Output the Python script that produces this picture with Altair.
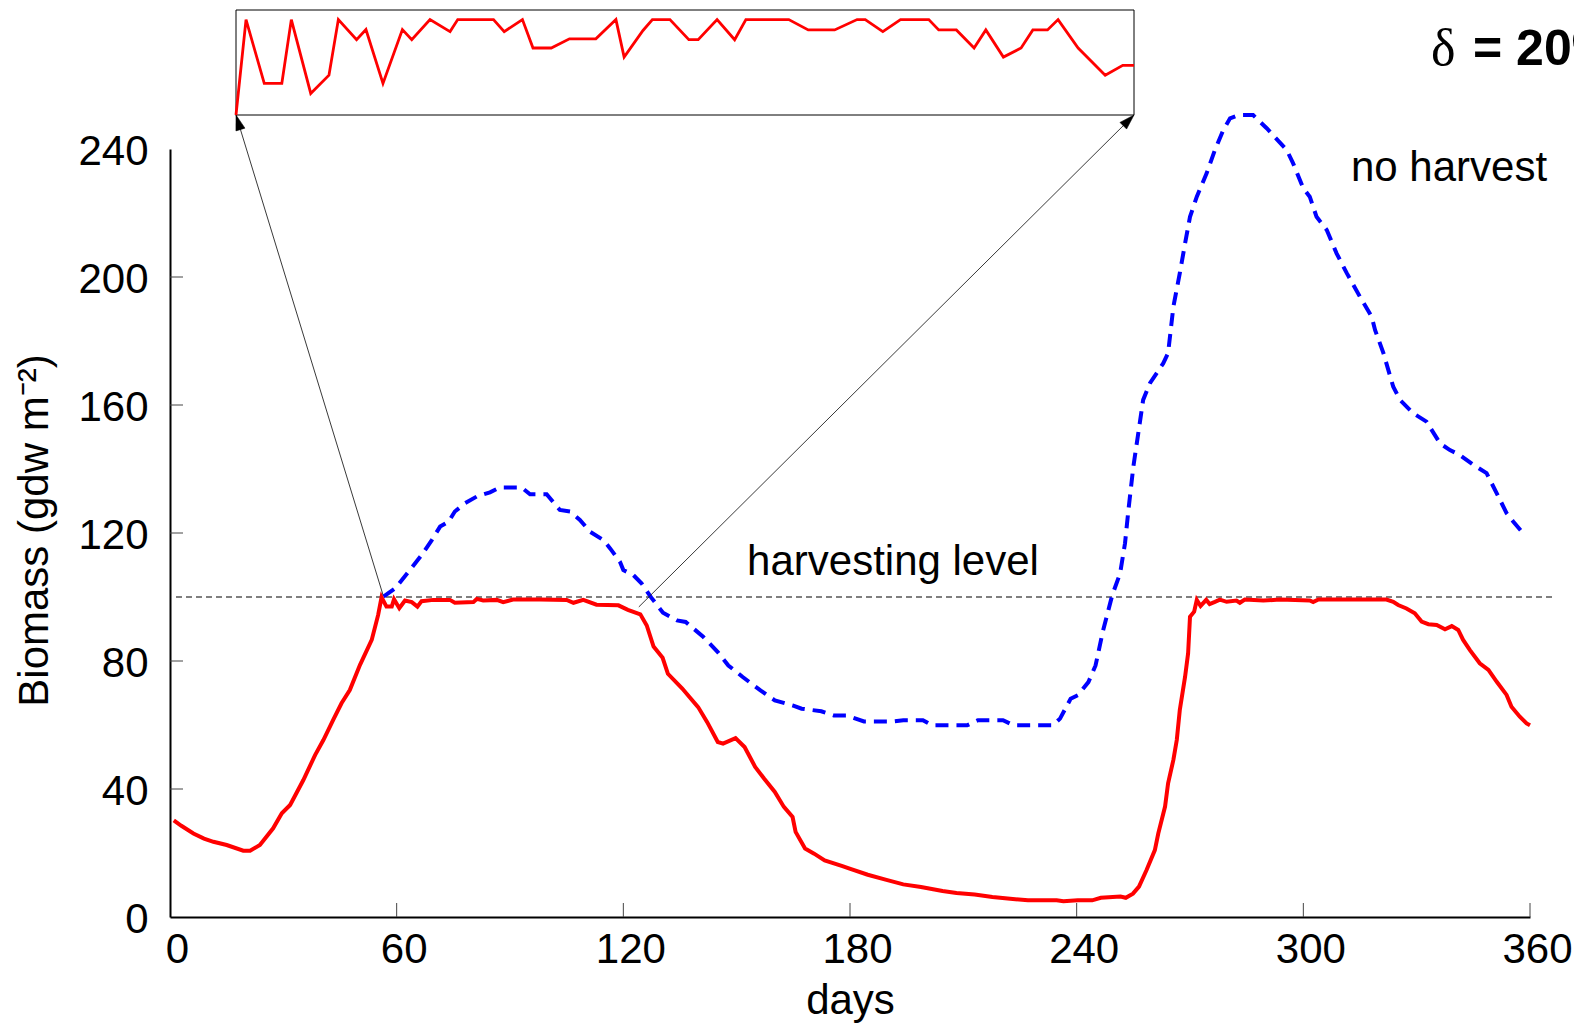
import altair as alt
import pandas as pd

# ---------------- data ----------------
red_days = [1, 3, 6.2, 9, 11.5, 15, 19.4, 21.2, 23.8, 27.3, 29.6, 31.8, 35.3, 38.4, 40.6, 43.2,
            45.4, 47.6, 50.3, 53.4, 55.1, 56.0, 57.3, 58.7, 59.3, 60.7, 62.2, 64, 65.5, 66.6,
            69.7, 74.1, 75.4, 80.3, 81.2, 82.9, 86.5, 88.2, 90.8, 97.9, 105, 106.8, 109.4, 112.9,
            118.7, 121.2, 124.5, 126.2, 128.0, 130.4, 131.8, 135.6, 137.5, 139.8, 142.2, 145.0,
            146.4, 149.7, 152.1, 154.9, 157.3, 160.1, 162.5, 164.8, 165.6, 168.1, 170.5, 173.3,
            178.0, 179.9, 184.7, 189.4, 194.1, 198.8, 204.5, 208.2, 213.0, 217.7, 222.4, 227.1,
            234.7, 236.5, 240.3, 244.1, 246.4, 251.6, 253.0, 254.9, 256.5, 258.5, 260.7, 261.6,
            263.4, 264.2, 265.6, 266.5, 267.3, 268.7, 269.5, 270, 271.1, 271.8, 272.8, 274.3,
            275.2, 276.6, 277.9, 279.7, 282.3, 283.2, 284.5, 289.4, 293.8, 301.7, 302.6, 304,
            322, 323.8, 325.1, 327.3, 329.5, 331.3, 333.1, 335.3, 337.5, 339.3, 341, 342.3,
            344.1, 346.7, 349, 351.2, 353.8, 355.1, 357.3, 359.1, 360]
red_vals = [30.2, 28.5, 26.1, 24.5, 23.5, 22.5, 20.7, 20.7, 22.5, 27.7, 32.4, 35, 42.8, 50.6, 55.3, 61.6,
            66.8, 70.9, 78.8, 86.6, 94.4, 99.9, 97.0, 97.0, 99.3, 96.5, 98.9, 98.4, 97.0, 98.7,
            99.1, 99.1, 98.2, 98.4, 99.4, 98.9, 99.1, 98.4, 99.2, 99.2, 99.1, 98.2, 99.1, 97.6,
            97.4, 96.0, 94.6, 91.1, 84.5, 81.0, 76.0, 71.4, 68.75, 65.6, 60.9, 54.7,
            54.2, 55.9, 53.1, 46.9, 43.2, 39.1, 34.4, 31.25, 26.6, 21.4, 19.8, 17.7,
            15.9, 15.1, 13.2, 11.7, 10.2, 9.4, 8.1, 7.5, 7.0, 6.25, 5.7, 5.2,
            5.2, 4.9, 5.2, 5.2, 6.0, 6.4, 6.0, 7.3, 9.5, 14.7, 20.9, 26.1,
            34.5, 41.8, 49.1, 55.3, 64.7, 75.1, 82.4, 93.8, 95.4, 99.1, 97.2, 99.1,
            97.8, 98.5, 99.2, 98.5, 98.9, 98.2, 99.2, 98.9, 99.2, 98.9, 98.4, 99.2,
            99.2, 98.5, 97.5, 96.4, 94.9, 92.3, 91.5, 91.25, 89.9, 90.9, 89.7, 86.6,
            83.4, 79.3, 77.2, 73.5, 69.4, 65.7, 62.6, 60.5, 59.9]

blue_days = [56.5, 59.6, 63.5, 66.6, 69.3, 71.5, 73.7, 75.4, 78.1, 81.2, 84.7, 87.3, 93.1, 95.3, 99.7,
             103.2, 105.9, 108.5, 111.2, 114.7, 116.5, 119.1, 120, 122.6, 124.8, 127.4, 130.5,
             134.2, 136.5, 141.2, 145.0, 147.8, 151.6, 156.3, 160.1, 164.8, 167.2, 172.4, 175.7,
             179.0, 183.7, 191.3, 194.1, 199.3, 201.7, 211.0, 213.9, 220.5, 223.3, 233.7, 235.6,
             238.4, 240.3, 243.1, 245.0, 246.9, 249.4, 251.5, 252.8, 253.7, 255, 256.3, 257.6,
             259.4, 262.9, 264.2, 265.6, 267.3, 268.7, 270, 271.8, 274.4, 276.6, 278.8, 280.6,
             282.8, 286.7, 290.3, 295.6, 297.3, 300, 301.7, 303.5, 306.2, 308.8, 311.5, 315,
             318.1, 319, 321.2, 323.8, 325.6, 329.1, 332.6, 336.2, 338.8, 341.4, 345, 348.5,
             351.2, 353.8, 355.6, 358.2]
blue_vals = [100.1, 102.7, 108.4, 113.1, 117.8, 122, 123.5, 126.7, 129.3, 131.4, 132.7, 134.2, 134.2, 132.1, 132.1,
             127.2, 126.7, 124.1, 120.4, 117.8, 115.2, 111, 108.4, 106.9, 104.3, 99.8, 95.1,
             92.7, 92.2, 87.5, 82.8, 78.6, 75.0, 70.8, 67.7, 66.1, 65.1, 64.3, 63.0,
             63.0, 61.1, 61.1, 61.5, 61.5, 59.9, 59.9, 61.5, 61.5, 59.9, 59.9, 62.0,
             68.2, 69.3, 73.4, 78.6, 89.1, 100.5, 107.4, 116.8, 127.2, 140.7, 151.1, 161.6,
             166.8, 173, 176.2, 190.7, 201.2, 210.5, 218.8, 225.1, 232.4, 239.7, 245.9, 249.6,
             250.6, 250.6, 246.5, 239.7, 235.5, 227.7, 225.1, 218.8, 214.7, 207.4, 201.2, 193.8,
             187.6, 183.4, 176.2, 165.7, 161.6, 157.4, 154.8, 148, 145.9, 144.4, 141.3, 138.7,
             132.4, 126.2, 123.5, 119.9]

# magnified harvested curve shown in the inset (days 56-124)
inset_days = [56.0, 56.76, 58.14, 59.47, 60.19, 61.66, 63.04, 63.75, 65.13, 65.84, 67.13, 68.60, 69.31,
              70.69, 72.21, 72.79, 75.50, 76.31, 77.69, 78.49, 79.87, 81.25, 83.25, 84.77, 85.39,
              86.82, 87.53, 88.86, 90.29, 91.00, 92.43, 93.76, 94.61, 97.86, 99.33, 101.33, 103.03,
              103.65, 104.98, 106.32, 108.46, 109.21, 110.55, 111.89, 112.78, 114.11, 115.45,
              116.34, 117.45, 118.25, 119.77, 121.82, 123.15, 124.0]
inset_vals = [94.83, 100, 96.54, 96.54, 100, 96.0, 96.99, 100, 98.91, 99.46, 96.54, 99.46, 98.91,
              100, 99.35, 100, 100, 99.35, 100, 98.46, 98.46, 98.96, 98.96, 100, 97.97,
              99.41, 100, 100, 98.91, 98.91, 100, 98.91, 100, 100, 99.44, 99.44, 100,
              100, 99.35, 100, 100, 99.44, 99.44, 98.46, 99.44, 97.97, 98.46,
              99.44, 99.44, 100, 98.46, 96.99, 97.52, 97.52]

arrow_start_days = [56.4, 124.1]
arrow_start_vals = [100.6, 96.9]

x_tick_values = [0, 60, 120, 180, 240, 300, 360]
y_tick_values = [0, 40, 80, 120, 160, 200, 240]
harvest_level = 100

# ---------------- chart ----------------
W, H = 1360, 768
FONT = "Liberation Sans"

red_df = pd.DataFrame({"day": red_days, "biomass": red_vals})
blue_df = pd.DataFrame({"day": blue_days, "biomass": blue_vals})
inset_df = pd.DataFrame({"d": inset_days, "v": inset_vals})
x_tick_df = pd.DataFrame({"day": x_tick_values[1:]})
y_tick_df = pd.DataFrame({"biomass": y_tick_values[1:-1]})
dummy = pd.DataFrame({"a": [0]})

x_scale = alt.Scale(domain=[0, 360], nice=False, zero=False)
y_scale = alt.Scale(domain=[0, 240], nice=False, zero=False)

x_axis = alt.Axis(values=x_tick_values, title="days", ticks=False, grid=False,
                  labelPadding=12, labelOffset=7, labelFlush=False, labelFontSize=42,
                  titleFontSize=42, titleFontWeight="normal", titleY=96,
                  titleBaseline="alphabetic")
y_axis = alt.Axis(values=y_tick_values, title="Biomass (gdw m⁻²)", ticks=False, grid=False,
                  labelPadding=22, labelOffset=2, labelFontSize=42,
                  titleFontSize=42, titleFontWeight="normal", titleAngle=270,
                  titleX=-123, titleY=381, titleBaseline="alphabetic", titleAlign="center")


def X(field="day:Q"):
    return alt.X(field, scale=x_scale, axis=x_axis)


def Y(field="biomass:Q"):
    return alt.Y(field, scale=y_scale, axis=y_axis)


red_line = alt.Chart(red_df).mark_line(color="#ff0000", strokeWidth=4).encode(x=X(), y=Y())
blue_line = alt.Chart(blue_df).mark_line(color="#0000ff", strokeWidth=4,
                                         strokeDash=[13, 8]).encode(x=X(), y=Y())

harvest_rule = alt.Chart(dummy).mark_rule(color="black", strokeWidth=1.2, strokeDash=[6, 4]).encode(
    y=alt.datum(harvest_level, scale=y_scale), x=alt.value(6), x2=alt.value(1384))

x_ticks = alt.Chart(x_tick_df).mark_rule(color="#444444", strokeWidth=1).encode(
    x=X(), y=alt.value(H), y2=alt.value(H - 14))
y_ticks = alt.Chart(y_tick_df).mark_rule(color="#444444", strokeWidth=1).encode(
    y=Y(), x=alt.value(0), x2=alt.value(13))

# inset box and its magnified curve
box = alt.Chart(dummy).mark_rect(fillOpacity=0, stroke="black", strokeWidth=1).encode(
    x=alt.value(66), x2=alt.value(964), y=alt.value(-139), y2=alt.value(-34))

inset_line = alt.Chart(inset_df).transform_calculate(
    day=f"(66 + (datum.d - 56) / 68 * 898) / {W} * 360",
    biomass=f"({H} + 34 + (datum.v - 94.83) / 5.69 * 105) / {H} * 240",
).mark_line(color="#ff0000", strokeWidth=2.8).encode(x=X(), y=Y())

arrow_df = pd.DataFrame({"day": arrow_start_days, "biomass": arrow_start_vals,
                         "k": [0, 1]})
arrow1 = alt.Chart(arrow_df).transform_filter("datum.k == 0").mark_rule(
    color="#222222", strokeWidth=0.9).encode(x=X(), y=Y(), x2=alt.value(66), y2=alt.value(-34))
arrow2 = alt.Chart(arrow_df).transform_filter("datum.k == 1").mark_rule(
    color="#222222", strokeWidth=0.9).encode(x=X(), y=Y(), x2=alt.value(964), y2=alt.value(-34))

head_path = "M0,0L-0.62,2L0.62,2Z"
head1 = alt.Chart(dummy).mark_point(shape=head_path, filled=True, fill="black", stroke="black",
                                    strokeWidth=0.5, opacity=1, size=230).encode(
    x=alt.value(66), y=alt.value(-34), angle=alt.value(343))
head2 = alt.Chart(dummy).mark_point(shape=head_path, filled=True, fill="black", stroke="black",
                                    strokeWidth=0.5, opacity=1, size=230).encode(
    x=alt.value(964), y=alt.value(-34), angle=alt.value(45))

# text annotations
txt_level = alt.Chart(dummy).mark_text(text="harvesting level", font=FONT, fontSize=42,
                                       align="center", baseline="alphabetic", color="black").encode(
    x=alt.value(723), y=alt.value(426))
txt_nh = alt.Chart(dummy).mark_text(text="no harvest", font=FONT, fontSize=42,
                                    align="center", baseline="alphabetic", color="black").encode(
    x=alt.value(1279), y=alt.value(32))
txt_delta = alt.Chart(dummy).mark_text(text="δ", font="Liberation Serif", fontSize=52,
                                       align="left", baseline="alphabetic", color="black").encode(
    x=alt.value(1261), y=alt.value(-84))
txt_pct = alt.Chart(dummy).mark_text(text="= 20%", font=FONT, fontSize=50, fontWeight="bold",
                                     align="left", baseline="alphabetic", color="black").encode(
    x=alt.value(1303), y=alt.value(-84))

chart = alt.layer(
    harvest_rule, x_ticks, y_ticks, blue_line, red_line, arrow1, arrow2, head1, head2,
    box, inset_line, txt_level, txt_nh, txt_delta, txt_pct
).properties(
    width=W, height=H,
    autosize=alt.AutoSizeParams(type="none"),
    padding={"left": 162, "top": 141, "right": 44, "bottom": 106},
).configure_view(
    stroke=None
).configure_axis(
    domainColor="black", domainWidth=2, labelColor="black", titleColor="black",
    labelFont=FONT, titleFont=FONT, grid=False
)

chart.save("out.html", embed_options={"renderer": "svg", "actions": False})
